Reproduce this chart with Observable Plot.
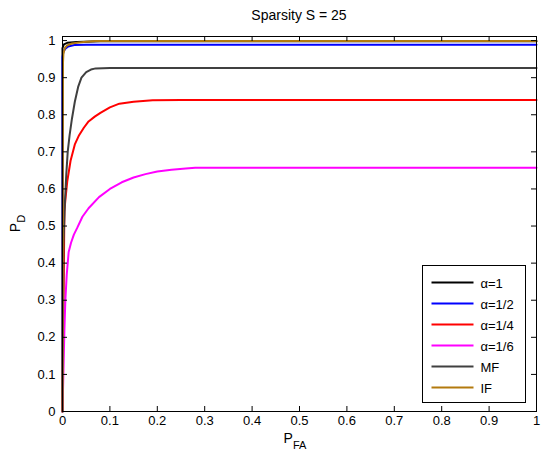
<!DOCTYPE html>
<html>
<head>
<meta charset="utf-8">
<script src="https://cdn.jsdelivr.net/npm/d3@7"></script>
<script src="https://cdn.jsdelivr.net/npm/@observablehq/plot@0.6"></script>
<style>
  html, body { margin: 0; padding: 0; background: #fff; }
  svg { display: block; }
</style>
</head>
<body>
<div id="chart"></div>
<script>
// ---- Data ----
const titleText = "Sparsity S = 25";
const seriesNames = ["α=1", "α=1/2", "α=1/4", "α=1/6", "MF", "IF"];
const seriesColors = ["#000000", "#0000ff", "#ff0000", "#ff00ff", "#404040", "#b37a0e"];

const pfa1 = [0, 0, 0.003, 0.01, 0.03, 0.08, 1];
const pd1  = [0, 0.98, 0.99, 0.994, 0.996, 0.998, 0.998];

const pfa2 = [0, 0, 0.002, 0.006, 0.012, 0.025, 0.05, 1];
const pd2  = [0, 0.955, 0.97, 0.978, 0.984, 0.988, 0.989, 0.989];

const pfa3 = [0, 0.004, 0.006, 0.01, 0.017, 0.026, 0.035, 0.045, 0.055, 0.068, 0.08, 0.1, 0.12, 0.15, 0.19, 0.25, 1];
const pd3  = [0, 0.54, 0.57, 0.62, 0.676, 0.72, 0.745, 0.765, 0.782, 0.795, 0.805, 0.82, 0.83, 0.835, 0.839, 0.84, 0.84];

const pfa4 = [0, 0.004, 0.006, 0.009, 0.013, 0.018, 0.024, 0.031, 0.042, 0.055, 0.077, 0.1, 0.125, 0.15, 0.175, 0.2, 0.23, 0.26, 0.28, 1];
const pd4  = [0, 0.22, 0.3, 0.37, 0.43, 0.455, 0.477, 0.495, 0.525, 0.548, 0.578, 0.6, 0.618, 0.631, 0.64, 0.647, 0.652, 0.655, 0.657, 0.657];

const pfa5 = [0, 0.002, 0.005, 0.008, 0.011, 0.015, 0.02, 0.026, 0.033, 0.04, 0.05, 0.06, 0.07, 0.1, 1];
const pd5  = [0, 0.45, 0.56, 0.64, 0.7, 0.745, 0.79, 0.835, 0.875, 0.9, 0.915, 0.922, 0.925, 0.926, 0.926];

const pfa6 = [0, 0.001, 0.002, 0.005, 0.01, 0.02, 0.035, 0.05, 0.07, 1];
const pd6  = [0, 0.94, 0.965, 0.98, 0.987, 0.992, 0.995, 0.997, 0.999, 0.999];

const xTicks = [0, 0.1, 0.2, 0.3, 0.4, 0.5, 0.6, 0.7, 0.8, 0.9, 1];
const xTickLabels = ["0", "0.1", "0.2", "0.3", "0.4", "0.5", "0.6", "0.7", "0.8", "0.9", "1"];
const yTicks = [0, 0.1, 0.2, 0.3, 0.4, 0.5, 0.6, 0.7, 0.8, 0.9, 1];
const yTickLabels = ["0", "0.1", "0.2", "0.3", "0.4", "0.5", "0.6", "0.7", "0.8", "0.9", "1"];

// ---- Build table ----
const allX = [pfa1, pfa2, pfa3, pfa4, pfa5, pfa6];
const allY = [pd1, pd2, pd3, pd4, pd5, pd6];
const series = allX.map((xs, i) => xs.map((x, j) => ({x, y: allY[i][j], s: seriesNames[i]})));

const W = 541, H = 451;
const mL = 62, mR = 5, mT = 36, mB = 40;
const fw = W - mL - mR, fh = H - mT - mB;
const tk = 5;

const fmtX = d => xTickLabels[xTicks.indexOf(d)];
const fmtY = d => yTickLabels[yTicks.indexOf(d)];

const svg = Plot.plot({
  width: W,
  height: H,
  marginLeft: mL,
  marginRight: mR,
  marginTop: mT,
  marginBottom: mB,
  style: {fontFamily: "'Liberation Sans', Arial, sans-serif", fontSize: "13px", color: "#000", background: "#fff", overflow: "visible"},
  x: {domain: [0, 1]},
  y: {domain: [0, 1.011]},
  marks: [
    ...series.map((d, i) => Plot.line(d, {x: "x", y: "y", stroke: seriesColors[i], strokeWidth: 2, curve: "linear"})),
    Plot.frame({stroke: "#000", strokeWidth: 1}),
    Plot.tickX(xTicks, {x: d => d, insetTop: fh - tk, stroke: "#000"}),
    Plot.tickX(xTicks, {x: d => d, insetBottom: fh - tk, stroke: "#000"}),
    Plot.tickY(yTicks, {y: d => d, insetRight: fw - tk, stroke: "#000"}),
    Plot.tickY(yTicks, {y: d => d, insetLeft: fw - tk, stroke: "#000"}),
    Plot.axisX(xTicks, {anchor: "bottom", tickSize: 0, tickPadding: 4, tickFormat: fmtX, label: null, fill: "#000", fontSize: 13}),
    Plot.axisY(yTicks, {anchor: "left", tickSize: 0, tickPadding: 7, tickFormat: fmtY, label: null, fill: "#000", fontSize: 13})
  ]
});

document.getElementById("chart").appendChild(svg);

const s = d3.select(svg);
const ff = "'Liberation Sans', Arial, sans-serif";

// Title
s.append("text")
  .attr("x", mL + fw / 2).attr("y", 20)
  .attr("text-anchor", "middle")
  .attr("font-family", ff).attr("font-size", 14).attr("fill", "#000")
  .text(titleText);

// X label P_FA
const xl = s.append("text")
  .attr("x", mL + fw / 2 - 4).attr("y", 443)
  .attr("text-anchor", "middle")
  .attr("font-family", ff).attr("font-size", 14).attr("fill", "#000");
xl.append("tspan").text("P");
xl.append("tspan").attr("dy", 6).attr("font-size", 11).text("FA");

// Y label P_D
const yl = s.append("text")
  .attr("transform", `translate(20,${mT + fh / 2}) rotate(-90)`)
  .attr("text-anchor", "middle")
  .attr("font-family", ff).attr("font-size", 14).attr("fill", "#000");
yl.append("tspan").text("P");
yl.append("tspan").attr("dy", 5).attr("font-size", 11).text("D");

// Legend
const lg = s.append("g");
const lx = 422.5, ly = 265.5, lw = 103, lh = 137;
lg.append("rect").attr("x", lx).attr("y", ly).attr("width", lw).attr("height", lh)
  .attr("fill", "#fff").attr("stroke", "#000").attr("stroke-width", 1);
seriesNames.forEach((name, i) => {
  const yy = ly + 17 + i * 21;
  lg.append("line").attr("x1", lx + 9).attr("x2", lx + 51).attr("y1", yy).attr("y2", yy)
    .attr("stroke", seriesColors[i]).attr("stroke-width", 2);
  lg.append("text").attr("x", lx + 58).attr("y", yy + 5)
    .attr("text-anchor", "start")
    .attr("font-family", ff).attr("font-size", 13).attr("fill", "#000").text(name);
});
</script>
</body>
</html>
